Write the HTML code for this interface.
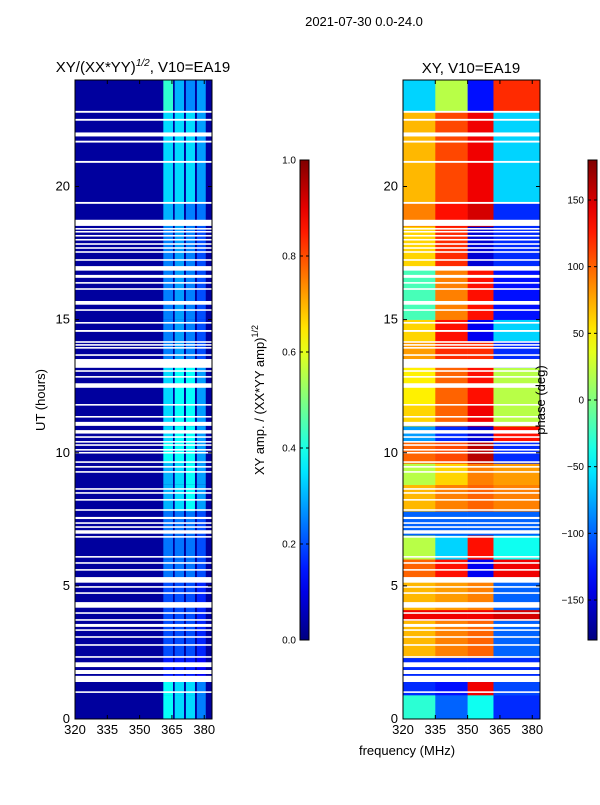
<!DOCTYPE html>
<html><head><meta charset="utf-8"><style>
body{margin:0;background:#fff;}
svg{font-family:"Liberation Sans","DejaVu Sans",sans-serif;}
</style></head><body>
<svg id="fig" width="600" height="800" viewBox="0 0 600 800" xmlns="http://www.w3.org/2000/svg">
<rect width="600" height="800" fill="#fff"/>
<text x="364" y="26" font-size="13" text-anchor="middle">2021-07-30 0.0-24.0</text>
<text x="143" y="72" font-size="15" text-anchor="middle">XY/(XX*YY)<tspan font-size="10" dy="-6" font-style="italic">1/2</tspan><tspan dy="6">, V10=EA19</tspan></text>
<text x="471" y="73" font-size="15" text-anchor="middle">XY, V10=EA19</text>
<g id="left"></g>
<g id="right"></g>
<g id="axes"></g>
<text transform="translate(45,400) rotate(-90)" font-size="13" text-anchor="middle">UT (hours)</text>
<text x="407" y="755" font-size="13" text-anchor="middle">frequency (MHz)</text>
<text transform="translate(264,400) rotate(-90)" font-size="13" text-anchor="middle">XY amp. / (XX*YY amp)<tspan font-size="9" dy="-6">1/2</tspan></text>
<text transform="translate(545,400) rotate(-90)" font-size="13" text-anchor="middle">phase (deg)</text>
</svg>
<script>
// time blocks (hours, start-end)
const blockStart = [0,0.9,1.4,2.3,3.7,4.1,5.3,6.0,6.9,7.8,8.8,9.6,10.4,11.0,11.8,13.2,14.2,15.0,16.9,18.5,19.4,22.8];
const blockEnd   = [0.9,1.4,2.3,3.7,4.1,5.3,6.0,6.9,7.8,8.8,9.6,10.4,11.0,11.8,13.2,14.2,15.0,16.9,18.5,19.4,22.8,24];
// phase (deg) per frequency zone
const phaseZoneMHz = [320,335,350,362,383.6];
const phaseA = [-30,-120,-120,70,140,70,100,20,-100,70,20,100,-80,60,50,80,60,-20,60,90,70,-60];
const phaseB = [-100,-130,-120,90,140,80,130,-60,-100,90,60,110,-120,100,100,120,130,90,120,130,110,20];
const phaseC = [-40,140,-120,100,140,90,-140,130,-100,100,90,160,-150,140,130,120,-140,130,-150,150,140,-130];
const phaseD = [-120,-110,-120,-100,150,-100,140,-40,-100,90,80,-120,130,20,20,-120,-60,-130,-120,-120,-60,120];
// amplitude per subband
const subStart = [361,366.3,371.5,376.6];
const subEnd = [365.5,370.6,375.7,380.7];
const ampBackground = 0.03;
const amp1 = [0.38,0.38,0.15,0.2,0.2,0.2,0.24,0.24,0.24,0.3,0.3,0.38,0.34,0.34,0.34,0.25,0.25,0.25,0.25,0.3,0.34,0.42];
const amp2 = [0.34,0.34,0.15,0.2,0.2,0.2,0.24,0.24,0.24,0.34,0.34,0.38,0.38,0.38,0.38,0.28,0.28,0.28,0.28,0.3,0.34,0.3];
const amp3 = [0.34,0.34,0.15,0.2,0.2,0.2,0.24,0.24,0.24,0.38,0.38,0.38,0.38,0.38,0.38,0.25,0.25,0.25,0.25,0.25,0.34,0.26];
const amp4 = [0.25,0.25,0.12,0.16,0.16,0.16,0.2,0.2,0.2,0.28,0.28,0.28,0.28,0.28,0.28,0.2,0.2,0.2,0.2,0.24,0.28,0.28];
// flagged (white) time ranges, hours
const flags = [[22.77,22.84],[22.47,22.54],[21.88,22.03],[21.65,21.72],[20.89,20.96],[19.35,19.42],[18.52,18.75],
[18.38,18.44],[18.27,18.33],[18.12,18.18],[17.97,18.03],[17.81,17.87],[17.66,17.72],[17.51,17.57],[17.21,17.27],
[16.84,17.01],[16.57,16.68],[16.35,16.41],[16.12,16.18],[15.56,15.70],[15.33,15.39],[14.85,14.91],[14.54,14.61],
[14.13,14.19],[14.02,14.08],[13.91,13.97],[13.64,13.70],[13.19,13.52],[13.04,13.10],[12.82,12.88],[12.44,12.61],
[11.77,11.83],[11.32,11.38],[11.01,11.16],[10.72,10.85],[10.56,10.62],[10.38,10.44],[10.26,10.32],[10.08,10.14],
[9.97,10.03],[9.62,9.68],[9.44,9.50],[9.25,9.31],[8.61,8.67],[8.46,8.52],[8.20,8.26],[7.82,7.88],[7.51,7.59],
[7.33,7.39],[7.18,7.24],[6.96,7.09],[6.81,6.87],[6.06,6.12],[5.83,5.89],[5.57,5.63],[5.12,5.33],[4.93,4.99],
[4.70,4.76],[4.18,4.39],[3.95,4.01],[3.69,3.75],[3.46,3.57],[3.31,3.37],[3.05,3.11],[2.75,2.81],[2.30,2.36],
[1.95,2.13],[1.69,1.84],[1.39,1.62],[0.98,1.04]];
const yTicks=[0,5,10,15,20], xTicks=[320,335,350,365,380];
const ampTicks=[0,0.2,0.4,0.6,0.8,1.0], phTicks=[-150,-100,-50,0,50,100,150];

const NS="http://www.w3.org/2000/svg";
const L={x0:75,x1:212}, R={x0:403,x1:540}, Y0=719, Y1=80, F0=320, F1=383.6;
function yS(h){return Y0-(h/24)*(Y0-Y1);}
function xS(p,f){return p.x0+(f-F0)/(F1-F0)*(p.x1-p.x0);}
function cl(v){return Math.max(0,Math.min(1,v));}
function jet(t){t=cl(t);const r=cl(1.5-Math.abs(4*t-3)),g=cl(1.5-Math.abs(4*t-2)),b=cl(1.5-Math.abs(4*t-1));
return `rgb(${Math.round(r*255)},${Math.round(g*255)},${Math.round(b*255)})`;}
function mk(tag,attrs,parent){const e=document.createElementNS(NS,tag);for(const k in attrs)e.setAttribute(k,attrs[k]);parent.appendChild(e);return e;}
const gL=document.getElementById('left'), gR=document.getElementById('right'), gA=document.getElementById('axes');

let bg=mk('rect',{x:L.x0,y:Y1,width:L.x1-L.x0,height:Y0-Y1,fill:jet(ampBackground)},gL);


const amps=[amp1,amp2,amp3,amp4];
for(let i=0;i<blockStart.length;i++){
  for(let s=0;s<4;s++){
    const c=mk('rect',{x:xS(L,subStart[s]),y:yS(blockEnd[i]),width:xS(L,subEnd[s])-xS(L,subStart[s]),height:yS(blockStart[i])-yS(blockEnd[i]),fill:jet(amps[s][i])},gL);
    
    
  }
}
const phs=[phaseA,phaseB,phaseC,phaseD];
for(let i=0;i<blockStart.length;i++){
  for(let z=0;z<4;z++){
    const c=mk('rect',{x:xS(R,phaseZoneMHz[z]),y:yS(blockEnd[i]),width:xS(R,phaseZoneMHz[z+1])-xS(R,phaseZoneMHz[z])+0.3,height:yS(blockStart[i])-yS(blockEnd[i])+0.3,fill:jet((phs[z][i]+180)/360)},gR);
    
    
  }
}
for(const f of flags){
  for(const p of [L,R]){
    const r=mk('rect',{x:p.x0,y:yS(f[1]),width:p.x1-p.x0,height:Math.max(1.5,yS(f[0])-yS(f[1])),fill:'#fff'},p===L?gL:gR);
    
    
  }
}
for(const p of [L,R]){
  const fr=mk('rect',{x:p.x0,y:Y1,width:p.x1-p.x0,height:Y0-Y1,fill:'none',stroke:'#000','stroke-width':1},gA);
  
  
  for(const t of yTicks){
    const y=yS(t);
    mk('line',{x1:p.x0,x2:p.x0+4,y1:y,y2:y,stroke:'#000'},gA);
    mk('line',{x1:p.x1,x2:p.x1-4,y1:y,y2:y,stroke:'#000'},gA);
    const tx=mk('text',{x:p.x0-5,y:y+4,'font-size':13,'text-anchor':'end'},gA);tx.textContent=t;
    
    
  }
  for(const t of xTicks){
    const x=xS(p,t);
    mk('line',{x1:x,x2:x,y1:Y0,y2:Y0-4,stroke:'#000'},gA);
    mk('line',{x1:x,x2:x,y1:Y1,y2:Y1+4,stroke:'#000'},gA);
    const tx=mk('text',{x:x,y:Y0+15,'font-size':13,'text-anchor':'middle'},gA);tx.textContent=t;
    
    
  }
}
function cbar(x,ticks,lo,hi,fmt,name){
  const y0=640,y1=160,w=9;
  const id='g'+name;
  const defs=mk('defs',{},gA);
  const lg=mk('linearGradient',{id:id,x1:0,y1:1,x2:0,y2:0},defs);
  for(let i=0;i<=20;i++){mk('stop',{offset:i/20,'stop-color':jet(i/20)},lg);}
  const r=mk('rect',{x:x,y:y1,width:w,height:y0-y1,fill:`url(#${id})`,stroke:'#000','stroke-width':1},gA);
  
  
  for(const t of ticks){
    const y=y0-(t-lo)/(hi-lo)*(y0-y1);
    mk('line',{x1:x+w,x2:x+w-3,y1:y,y2:y,stroke:'#000'},gA);
    mk('line',{x1:x,x2:x+3,y1:y,y2:y,stroke:'#000'},gA);
    const tx=mk('text',{x:x-4,y:y+3.5,'font-size':10,'text-anchor':'end'},gA);tx.textContent=fmt(t);
    
    
  }
}
cbar(300,ampTicks,0,1,t=>t.toFixed(1),'amp-colorbar');
cbar(588,phTicks,-180,180,t=>t<0?'\u2212'+(-t):String(t),'phase-colorbar');
</script>
</body></html>
